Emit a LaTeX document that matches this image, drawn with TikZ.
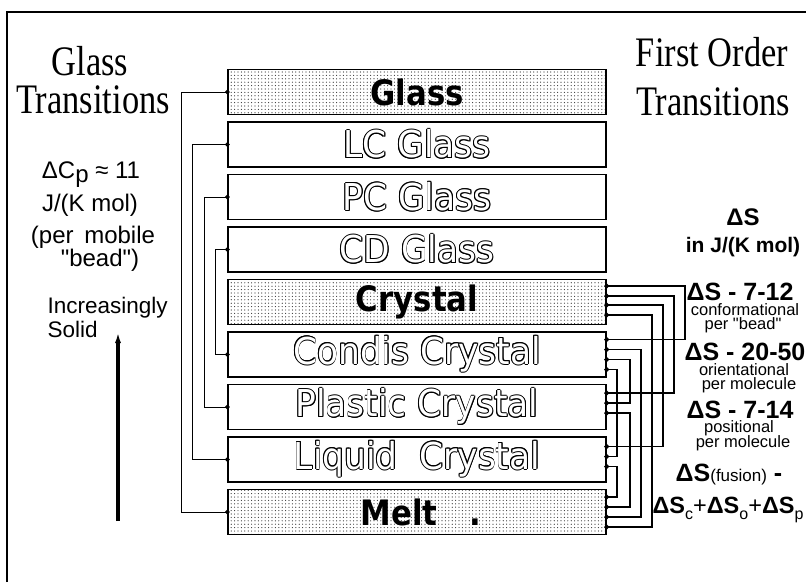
\documentclass[tikz,border=0pt]{standalone}
\usepackage{fontspec}
\setmainfont{Liberation Sans}
\newfontfamily\titlefont{Liberation Serif}
\newfontfamily\phasefont{DejaVu Sans}
\usepackage{contour}
\contourlength{0.9pt}
\contournumber{10}
\usetikzlibrary{arrows.meta,patterns.meta}
\newcommand\hollow[1]{\textcolor{white}{\contour{black}{\scalebox{0.93}[1]{#1}}}}
\newcommand\heavy[1]{\scalebox{0.88}[1]{#1}}
\newcommand\sub[1]{\raisebox{-6pt}{\mdseries\fontsize{16}{16}\selectfont #1}}

\begin{document}
\begin{tikzpicture}[
  x=1pt,y=-1pt,
  phase/.style={
    draw=black,
    line width=1.3pt,
    minimum width=378pt,
    minimum height=45pt,
    inner sep=0pt,
    font=\phasefont\fontsize{37}{37}\selectfont
  },
  solidphase/.style={
    phase,
    font=\phasefont\bfseries\fontsize{35}{35}\selectfont,
    pattern={Dots[distance=3.4pt,radius=0.6pt]},
    pattern color=black!80
  },
  heading/.style={anchor=base,font=\titlefont\fontsize{42}{42}\selectfont},
  note/.style={anchor=base,font=\fontsize{24}{24}\selectfont},
  unit/.style={anchor=base,font=\bfseries\fontsize{21}{21}\selectfont},
  entropy/.style={anchor=base,font=\bfseries\fontsize{25}{25}\selectfont},
  kind/.style={anchor=base,font=\fontsize{16.5}{16.5}\selectfont},
  glasslink/.style={
    {Circle[length=4.6pt]}-{Circle[length=4.6pt]},
    line width=0.9pt,
    shorten <=-2.3pt,
    shorten >=-2.3pt
  },
  orderlink/.style={glasslink,line width=1.7pt}
]
\useasboundingbox (0,0) rectangle (806,582);

% Frame
\draw[line width=2pt] (7,582) -- (7,12) -- (806,12);

% Phases, from glassy to molten
\node[solidphase] (glass) at (417,92) {\heavy{Glass}};
\node[phase] (lcglass) at (417,144.5) {\hollow{LC Glass}};
\node[phase] (pcglass) at (417,197) {\hollow{PC Glass}};
\node[phase] (cdglass) at (417,249.5) {\hollow{CD Glass}};
\node[solidphase] (crystal) at (417,302) {\heavy{Crystal}};
\node[phase] (condis) at (417,354.5) {\hollow{Condis Crystal}};
\node[phase] (plastic) at (417,407) {\hollow{Plastic Crystal}};
\node[phase] (liquid) at (417,459.5) {\hollow{Liquid\ \ Crystal}};
\node[solidphase] (melt) at (417,512) {\hspace{8pt}\heavy{Melt\ \ \ .}};

% Glass-transition side
\node[heading] (glasstitle) at (90,75) {\scalebox{0.82}[1]{Glass}};
\node[heading] (glasstrans) at (93,113) {\scalebox{0.82}[1]{Transitions}};
\node[note] (cp) at (91,178) {ΔC\raisebox{-0.2em}{p} ≈ 11};
\node[note] (cpunit) at (90,211) {J/(K mol)};
\node[note] (permobile) at (93,243) {(per\, mobile};
\node[note] (bead) at (100,266) {\textquotedbl bead\textquotedbl)};
\node[note,anchor=base west,font=\fontsize{22.5}{22.5}\selectfont] (increasing) at (44,313) {Increasingly};
\node[note,anchor=base west,font=\fontsize{22.5}{22.5}\selectfont] (solid) at (44,337) {Solid};
\coordinate (arrowfoot) at (118,521);
\coordinate (arrowtip) at (118,332);
\draw[-{Latex[length=11pt,width=6pt]},line width=3.4pt] (arrowfoot) -- (arrowtip);

% First-order side
\node[heading] (ordertitle) at (712,66) {\scalebox{0.82}[1]{First Order}};
\node[heading] (ordertrans) at (713,115) {\scalebox{0.82}[1]{Transitions}};
\node[unit,font=\bfseries\fontsize{24}{24}\selectfont] (ds) at (743,225) {ΔS};
\node[unit] (dsunit) at (743,252) {in J/(K mol)};
\node[entropy] (dsc) at (740,300) {ΔS - 7-12};
\node[kind] (conf) at (745,315) {conformational};
\node[kind] (confper) at (743,329) {per \textquotedbl bead\textquotedbl};
\node[entropy] (dso) at (745,360) {ΔS - 20-50};
\node[kind] (orient) at (744,375) {orientational};
\node[kind] (orientper) at (749,389) {per molecule};
\node[entropy] (dsp) at (740,418) {ΔS - 7-14};
\node[kind] (posit) at (739,432) {positional};
\node[kind] (positper) at (743,447) {per molecule};
\node[entropy] (fusion) at (729,481) {ΔS{\mdseries\fontsize{17}{17}\selectfont(fusion)} -};
\node[entropy,font=\bfseries\fontsize{23.5}{23.5}\selectfont] (fusionsum) at (728,513)
  {ΔS\sub{c}{\mdseries+}ΔS\sub{o}{\mdseries+}ΔS\sub{p}};

% Glass transitions
\draw[glasslink] (glass.west) -- ++(-46,0) |- (melt.west);
\draw[glasslink] (lcglass.west) -- ++(-35,0) |- (liquid.west);
\draw[glasslink] (pcglass.west) -- ++(-23,0) |- (plastic.west);
\draw[glasslink] (cdglass.west) -- ++(-12,0) |- (condis.west);

% First order transitions
\draw[orderlink] ([yshift=16pt]crystal.east) -- ++(78,0) |- ([yshift=15pt]condis.east);
\draw[orderlink] ([yshift=6pt]crystal.east) -- ++(67,0) |- ([yshift=14pt]plastic.east);
\draw[orderlink] ([yshift=-3pt]crystal.east) -- ++(56,0) |- ([yshift=13pt]liquid.east);
\draw[orderlink] ([yshift=-13pt]crystal.east) -- ++(45,0) |- ([yshift=-15pt]melt.east);
\draw[orderlink] ([yshift=5pt]condis.east) -- ++(34,0) |- ([yshift=-5pt]melt.east);
\draw[orderlink] ([yshift=-5pt]condis.east) -- ++(23,0) |- ([yshift=4pt]plastic.east);
\draw[orderlink] ([yshift=-6pt]plastic.east) -- ++(23,0) |- ([yshift=5pt]melt.east);
\draw[orderlink] ([yshift=-15pt]condis.east) -- ++(10,0) |- ([yshift=3pt]liquid.east);
\draw[orderlink] ([yshift=-7pt]liquid.east) -- ++(10,0) |- ([yshift=15pt]melt.east);
\end{tikzpicture}
\end{document}
